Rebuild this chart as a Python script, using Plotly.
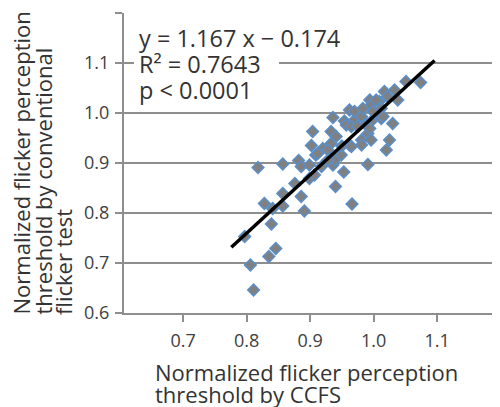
import plotly.graph_objects as go

# Data
ccfs = [0.818, 0.857, 0.882, 0.886, 0.904, 0.902, 0.909, 0.920, 0.912, 0.899,
        0.907, 0.876, 0.857, 0.857, 0.828, 0.841, 0.839, 0.886, 0.891, 0.797,
        0.846, 0.835, 0.806, 0.811, 0.936, 0.933, 0.941, 0.933, 0.928, 0.936,
        0.949, 0.953, 0.940, 0.966, 0.962, 0.962, 0.954, 0.957, 0.970, 0.970,
        0.965, 0.981, 0.983, 0.994, 0.996, 0.999, 0.989, 0.996, 0.981, 0.991,
        0.996, 0.994, 1.009, 1.012, 1.017, 1.022, 1.033, 1.038, 1.012, 1.030,
        1.025, 1.020, 0.991, 1.051, 1.074, 0.965, 0.981, 0.975, 0.939, 0.928,
        0.899, 1.004, 1.015, 0.950, 0.918]
conventional = [0.891, 0.898, 0.905, 0.893, 0.963, 0.935, 0.916, 0.929, 0.919, 0.869,
                0.876, 0.859, 0.839, 0.814, 0.819, 0.809, 0.778, 0.833, 0.804, 0.753,
                0.729, 0.713, 0.696, 0.646, 0.991, 0.963, 0.953, 0.939, 0.926, 0.896,
                0.916, 0.882, 0.853, 0.818, 0.936, 1.006, 0.984, 0.976, 0.986, 1.003,
                0.973, 0.993, 1.009, 1.026, 1.016, 1.003, 0.979, 0.983, 0.946, 0.959,
                0.946, 0.969, 1.023, 1.009, 1.043, 1.033, 1.046, 1.026, 0.989, 0.979,
                0.946, 0.926, 0.897, 1.063, 1.061, 0.933, 0.936, 0.973, 0.906, 0.906,
                0.896, 1.026, 0.993, 0.934, 0.893]

slope = 1.167
intercept = -0.174
fit_x = [0.776, 1.096]
fit_y = [slope * v + intercept for v in fit_x]

x_ticks = [0.7, 0.8, 0.9, 1.0, 1.1]
x_tick_labels = ["0.7", "0.8", "0.9", "1.0", "1.1"]
y_ticks = [0.6, 0.7, 0.8, 0.9, 1.0, 1.1, 1.2]
y_tick_labels = ["0.6", "0.7", "0.8", "0.9", "1.0", "1.1", ""]

stats_lines = ["y = 1.167 x − 0.174", "R² = 0.7643", "p < 0.0001"]
x_title_lines = ["Normalized flicker perception", "threshold by CCFS"]
y_title_lines = ["Normalized flicker perception", "threshold by conventional", "flicker test"]

FONT = "Open Sans"
TXT = "#404040"
GRID = "#8e8e8e"

fig = go.Figure()
fig.add_trace(go.Scatter(
    x=ccfs, y=conventional, mode="markers",
    marker=dict(symbol="diamond", size=9, color="#808080",
                line=dict(color="#5b8ec6", width=1.5)),
    showlegend=False, hoverinfo="skip"))
fig.add_trace(go.Scatter(
    x=fit_x, y=fit_y, mode="lines",
    line=dict(color="black", width=3.5),
    showlegend=False, hoverinfo="skip"))

OFF = 8  # page body margin
# plot area in page pixels: x 124..500, y 13..313
PL, PR, PT, PB = 124, 500, 13, 313
W, H = 500 - OFF, 407 - OFF
pw, ph = PR - PL, PB - PT


def xp(px):
    return (px - PL) / pw


def yp(py):
    return (PB - py) / ph


fig.update_layout(
    width=W, height=H,
    margin=dict(l=PL - OFF, r=W - (PR - OFF), t=PT - OFF, b=H - (PB - OFF)),
    plot_bgcolor="white", paper_bgcolor="white",
    font=dict(family=FONT, color=TXT, size=18),
    xaxis=dict(range=[0.607, 1.199], tickvals=x_ticks, ticktext=x_tick_labels,
               showgrid=False, zeroline=False, showline=True, linecolor=GRID,
               linewidth=2, ticks="outside", ticklen=7, tickwidth=2, tickcolor=GRID,
               ticklabelstandoff=3, tickfont=dict(size=18, color=TXT)),
    yaxis=dict(range=[0.6, 1.2], tickvals=y_ticks, ticktext=y_tick_labels,
               showgrid=True, gridcolor=GRID, gridwidth=2, zeroline=False,
               showline=True, linecolor=GRID, linewidth=2, ticks="outside",
               ticklen=7, tickwidth=2, tickcolor=GRID, ticklabelstandoff=2,
               tickfont=dict(size=18, color=TXT)),
    shapes=[dict(type="rect", xref="paper", yref="paper",
                 x0=xp(134), x1=xp(279), y0=yp(100), y1=yp(22),
                 fillcolor="white", line=dict(width=0), layer="above")],
)

annotations = []
for cy, txt in zip([38, 64, 90], stats_lines):
    annotations.append(dict(text=txt, x=xp(137), y=yp(cy), xanchor="left",
                            yanchor="middle", showarrow=False,
                            font=dict(size=23.5, color="#333333", family=FONT)))
for cy, txt in zip([372, 394], x_title_lines):
    annotations.append(dict(text=txt, x=xp(153), y=yp(cy), xanchor="left",
                            yanchor="middle", showarrow=False,
                            font=dict(size=22, color="#333333", family=FONT)))
for cx, txt in zip([20, 42, 63], y_title_lines):
    annotations.append(dict(text=txt, x=xp(cx), y=yp(317), xanchor="center",
                            yanchor="bottom", textangle=-90, showarrow=False,
                            font=dict(size=22, color="#333333", family=FONT)))
for a in annotations:
    a["xref"] = "paper"
    a["yref"] = "paper"
fig.update_layout(annotations=annotations)

fig.write_html("out.html")
